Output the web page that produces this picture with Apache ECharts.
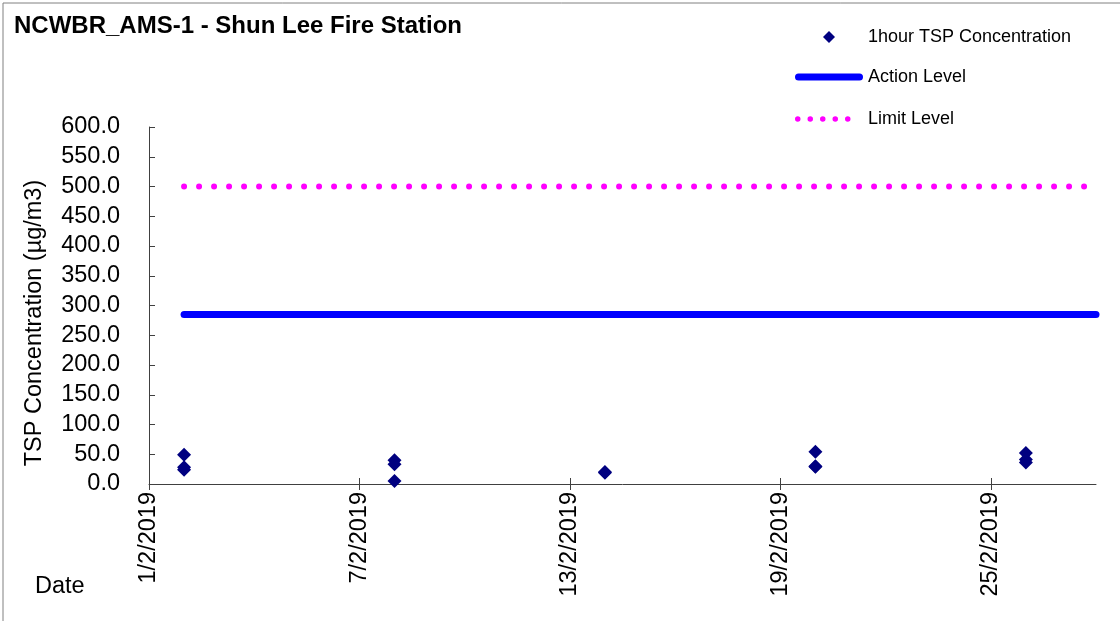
<!DOCTYPE html>
<html>
<head>
<meta charset="utf-8">
<script src="https://cdn.jsdelivr.net/npm/echarts@6/dist/echarts.min.js"></script>
<style>
html,body{margin:0;padding:0;background:#fff;}
#chart{width:1120px;height:621px;}
</style>
</head>
<body>
<div id="chart"></div>
<script>
// ---- data ----
const chartTitle = 'NCWBR_AMS-1 - Shun Lee Fire Station';
const yAxisTitle = 'TSP Concentration (µg/m3)';
const xAxisTitle = 'Date';
const axisStartDate = '1/2/2019';
const axisEndDate = '28/2/2019';
const xTickDates = ['1/2/2019','7/2/2019','13/2/2019','19/2/2019','25/2/2019'];
const sampleDates = ['2/2/2019','2/2/2019','2/2/2019',
                     '8/2/2019','8/2/2019','8/2/2019',
                     '14/2/2019','14/2/2019',
                     '20/2/2019','20/2/2019','20/2/2019',
                     '26/2/2019','26/2/2019','26/2/2019'];
const tspValues = [49, 28, 24,
                   40, 33, 5,
                   20, 19,
                   54, 30, 29,
                   52, 41, 36];
const levelStartDate = '2/2/2019';
const levelEndDate = '28/2/2019';
const actionLevel = 285;
const limitLevel = 500;
const yTickValues = [0,50,100,150,200,250,300,350,400,450,500,550,600];

// ---- helpers ----
function parseDMY(s){ const p = s.split('/').map(Number); return Date.UTC(p[2], p[1]-1, p[0]); }
const DAY = 86400000;
const base = parseDMY(axisStartDate);
function dayIndex(s){ return Math.round((parseDMY(s) - base) / DAY); }
function dayLabel(v){ const d = new Date(base + v*DAY); return d.getUTCDate() + '/' + (d.getUTCMonth()+1) + '/' + d.getUTCFullYear(); }

const xMax = dayIndex(axisEndDate);
const xTicks = xTickDates.map(dayIndex);
const scatterData = sampleDates.map((d,i)=>[dayIndex(d), tspValues[i]]);
const actionData = [[dayIndex(levelStartDate), actionLevel],[dayIndex(levelEndDate), actionLevel]];
const limitData = [[dayIndex(levelStartDate), limitLevel],[dayIndex(levelEndDate), limitLevel]];

const FONT = '"Liberation Sans", Arial, sans-serif';
const axisColor = '#404040';
const AX_FS = 23.5;

// legend icons (shapes only)
const capsuleIcon = 'path://M3.5,0 L64.5,0 A3.5,3.5 0 0 1 64.5,7 L3.5,7 A3.5,3.5 0 0 1 3.5,0 Z';
function dotsIcon(){
  let p = 'path://';
  const r = 2.75;
  for (let i = 0; i < 5; i++) {
    const cx = r + i * 12.5;
    p += `M${cx - r},${r} A${r},${r} 0 1 0 ${cx + r},${r} A${r},${r} 0 1 0 ${cx - r},${r} Z `;
  }
  return p;
}

const chart = echarts.init(document.getElementById('chart'), null, {renderer:'canvas'});
chart.setOption({
  animation: false,
  backgroundColor: '#ffffff',
  title: {
    text: chartTitle, left: 14, top: 14, padding: 0,
    textStyle: {fontFamily: FONT, fontSize: 24, fontWeight: 'bold', color: '#000'}
  },
  legend: [
    {
      data: [{name: '1hour TSP Concentration', icon: 'diamond'}], orient: 'vertical', left: 823, top: 28, padding: 0,
      itemWidth: 12, itemHeight: 12, selectedMode: false,
      textStyle: {fontFamily: FONT, fontSize: 18, color: '#000', padding: [0,0,0,28]}
    },
    {
      data: [{name: 'Action Level', icon: capsuleIcon}], orient: 'vertical', left: 795, top: 68, padding: 0,
      itemWidth: 68, itemHeight: 7, selectedMode: false,
      textStyle: {fontFamily: FONT, fontSize: 18, color: '#000'}
    },
    {
      data: [{name: 'Limit Level', icon: dotsIcon()}], orient: 'vertical', left: 795, top: 110, padding: 0,
      itemWidth: 55.5, itemHeight: 5.5, selectedMode: false,
      textStyle: {fontFamily: FONT, fontSize: 18, color: '#000', padding: [0,0,0,12.5]}
    }
  ],
  grid: {left: 149, right: 24, top: 127, bottom: 137, containLabel: false},
  xAxis: [
    {
      type: 'value', min: 0, max: xMax, interval: 6,
      splitLine: {show: false},
      axisLine: {show: true, lineStyle: {color: axisColor, width: 1}},
      axisTick: {show: true, inside: true, length: 6, customValues: xTicks, lineStyle: {color: axisColor}},
      axisLabel: {
        rotate: 90, margin: 8, fontFamily: FONT, fontSize: AX_FS, color: '#000',
        customValues: xTicks,
        formatter: v => dayLabel(v)
      }
    },
    {
      type: 'value', min: 0, max: xMax, interval: 6, position: 'bottom',
      splitLine: {show: false},
      axisLine: {show: false},
      axisTick: {show: true, inside: false, length: 6, customValues: xTicks, lineStyle: {color: axisColor}},
      axisLabel: {show: false}
    }
  ],
  yAxis: {
    type: 'value', min: 0, max: 600, interval: 50,
    splitLine: {show: false},
    axisLine: {show: true, lineStyle: {color: axisColor, width: 1}},
    axisTick: {show: true, inside: true, length: 6, lineStyle: {color: axisColor}},
    axisLabel: {
      margin: 29, fontFamily: FONT, fontSize: AX_FS, color: '#000',
      formatter: v => (yTickValues.includes(v) ? v.toFixed(1) : '')
    }
  },
  graphic: [
    {type: 'line', shape: {x1: 3, y1: 3, x2: 3, y2: 621}, style: {stroke: '#808080', lineWidth: 1}},
    {type: 'line', shape: {x1: 3, y1: 3, x2: 1120, y2: 3}, style: {stroke: '#808080', lineWidth: 1}},
    {type: 'text', x: 35, y: 323, rotation: Math.PI / 2,
     style: {text: yAxisTitle, font: AX_FS + 'px ' + FONT, fill: '#000', align: 'center', verticalAlign: 'middle'}},
    {type: 'text', x: 35, y: 587,
     style: {text: xAxisTitle, font: AX_FS + 'px ' + FONT, fill: '#000', align: 'left', verticalAlign: 'middle'}}
  ],
  series: [
    {
      name: 'Limit Level', type: 'line', data: limitData, symbol: 'none', z: 2,
      lineStyle: {color: '#FF00FF', width: 6, type: [0, 15], cap: 'round'},
      itemStyle: {color: '#FF00FF'}
    },
    {
      name: 'Action Level', type: 'line', data: actionData, symbol: 'none', z: 2,
      lineStyle: {color: '#0000FF', width: 7, type: 'solid', cap: 'round'},
      itemStyle: {color: '#0000FF'}
    },
    {
      name: '1hour TSP Concentration', type: 'scatter', data: scatterData,
      symbol: 'diamond', symbolSize: 14, z: 3,
      itemStyle: {color: '#000080', opacity: 1}
    }
  ]
});
</script>
</body>
</html>
